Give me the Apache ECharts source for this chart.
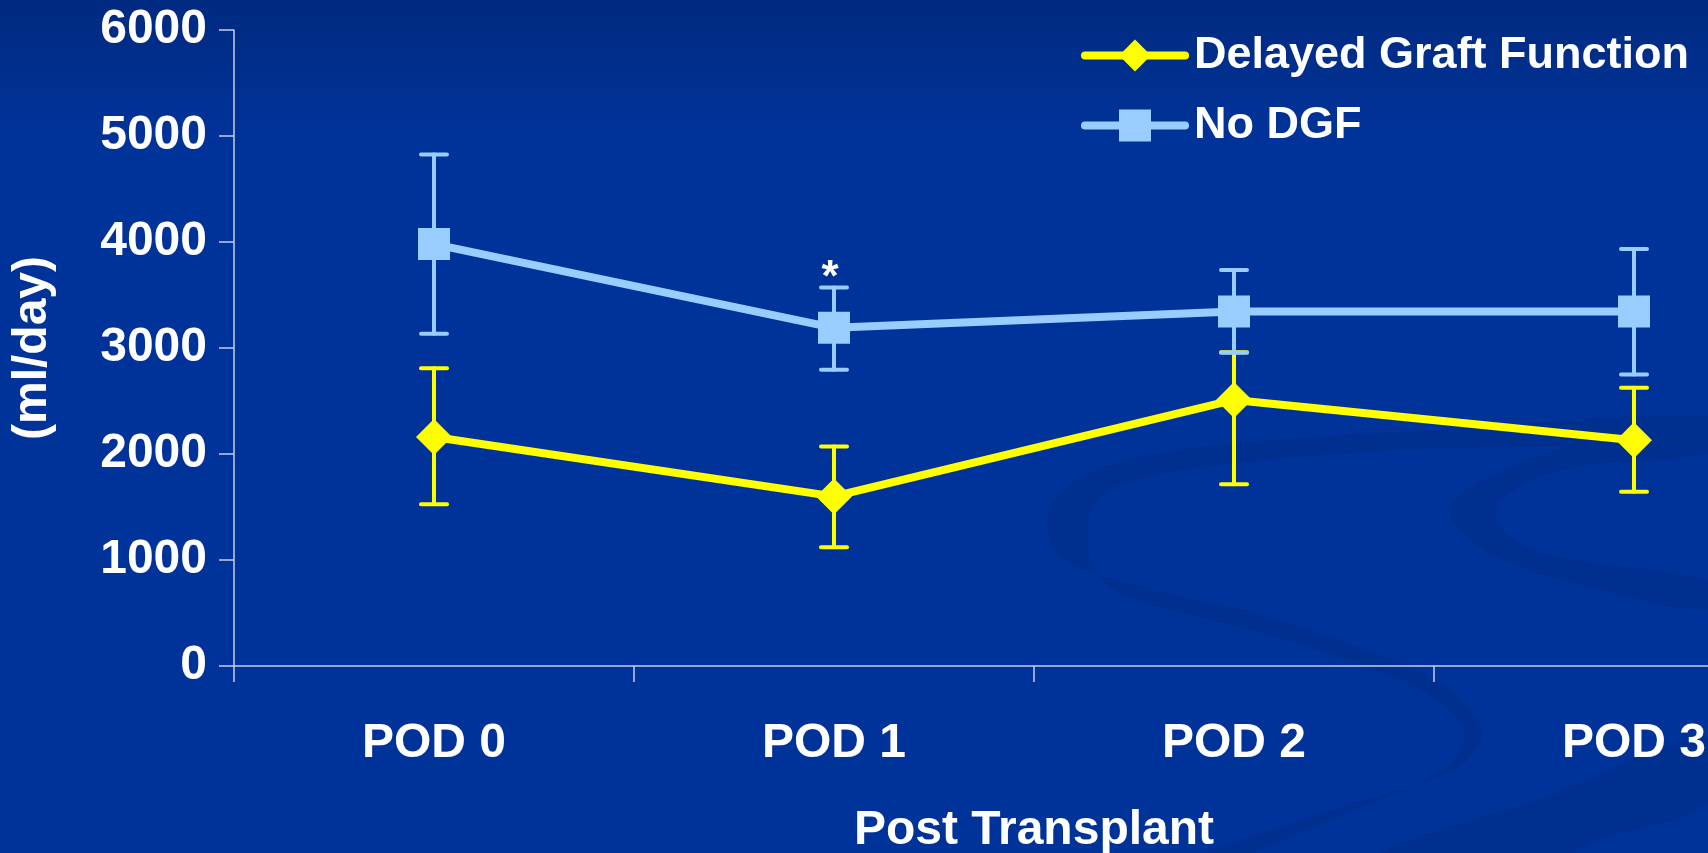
<!DOCTYPE html>
<html><head><meta charset="utf-8">
<script src="https://cdn.jsdelivr.net/npm/echarts@6/dist/echarts.min.js"></script>
<style>html,body{margin:0;padding:0;background:#003399;overflow:hidden}#c{width:1708px;height:853px}</style>
</head><body><div id="c"></div>
<script>
// ---- data ----
const categories = ['POD 0', 'POD 1', 'POD 2', 'POD 3'];
const dgfMean  = [2160, 1600, 2510, 2130];
const dgfLow   = [1525, 1120, 1715, 1645];
const dgfHigh  = [2810, 2070, 2960, 2625];
const noDgfMean = [3980, 3190, 3345, 3345];
const noDgfLow  = [3135, 2795, 2955, 2750];
const noDgfHigh = [4825, 3570, 3735, 3935];
const seriesNames = ['Delayed Graft Function', 'No DGF'];
const annotations = [{ series: 'No DGF', category: 'POD 1', text: '*' }];
const yAxisTitle = '(ml/day)';
const xAxisTitle = 'Post Transplant';

// ---- style ----
const FONT = '"Liberation Sans", Arial, sans-serif';
const YELLOW = '#ffff00';
const BLUE = '#99ccff';
const AXIS = '#c8cde8';
const SWOOSH = '#00308f';

function errorSeries(name, low, high, color, z) {
  return {
    type: 'custom',
    name: name + ' error',
    z: z,
    silent: true,
    data: categories.map((c, i) => [i, low[i], high[i]]),
    renderItem(params, api) {
      const i = api.value(0);
      const lo = api.coord([i, api.value(1)]);
      const hi = api.coord([i, api.value(2)]);
      const half = 13;
      const st = { stroke: color, lineWidth: 4, lineCap: 'round' };
      const children = [
        { type: 'line', shape: { x1: lo[0], y1: lo[1], x2: hi[0], y2: hi[1] }, style: st },
        { type: 'line', shape: { x1: hi[0] - half, y1: hi[1], x2: hi[0] + half, y2: hi[1] }, style: st },
        { type: 'line', shape: { x1: lo[0] - half, y1: lo[1], x2: lo[0] + half, y2: lo[1] }, style: st }
      ];
      annotations.forEach(a => {
        if (a.series === name && categories.indexOf(a.category) === i) {
          children.push({
            type: 'text',
            style: { text: a.text, x: hi[0] - 4, y: hi[1] + 13, fill: '#ffffff',
              font: 'bold 44px ' + FONT, textAlign: 'center', textVerticalAlign: 'bottom' }
          });
        }
      });
      return { type: 'group', children };
    }
  };
}

// decorative background crescents (slide template)
function blob(points) {
  return { type: 'polygon', z: -10, silent: true,
    shape: { points: points, smooth: 0.35 }, style: { fill: SWOOSH } };
}

const chart = echarts.init(document.getElementById('c'), null, { renderer: 'canvas' });
chart.setOption({
  animation: false,
  backgroundColor: {
    type: 'linear', x: 0, y: 0, x2: 0, y2: 1,
    colorStops: [{ offset: 0, color: '#002a80' }, { offset: 0.16, color: '#003399' }, { offset: 1, color: '#003399' }]
  },
  textStyle: { fontFamily: FONT },
  graphic: [
    blob([[1712, 416], [1415, 431], [1209, 446], [1106, 466], [1058, 495], [1047, 525], [1060, 557],
          [1132, 584], [1261, 615], [1364, 649], [1441, 683], [1482, 730], [1468, 760], [1441, 776],
          [1312, 816], [1200, 856], [1240, 856], [1330, 820], [1445, 768], [1464, 730], [1425, 693],
          [1350, 661], [1250, 630], [1140, 601], [1098, 576], [1088, 530], [1100, 497], [1140, 479],
          [1240, 463], [1420, 449], [1712, 440]]),
    blob([[1712, 421], [1570, 446], [1467, 489], [1450, 515], [1493, 555], [1596, 589], [1712, 610],
          [1712, 582], [1544, 553], [1498, 524], [1503, 498], [1570, 468], [1712, 452]]),
    blob([[1380, 856], [1550, 795], [1712, 738], [1712, 800], [1600, 840], [1560, 856]])
  ],
  grid: { left: 234, top: 30, width: 1600, height: 636, containLabel: false, outerBoundsMode: 'none' },
  legend: {
    data: seriesNames,
    orient: 'vertical',
    left: 1076, top: 28,
    itemWidth: 100, itemHeight: 40, itemGap: 25,
    selectedMode: false,
    lineStyle: { width: 8, cap: 'round' },
    textStyle: { color: '#ffffff', fontSize: 45, fontWeight: 'bold', fontFamily: FONT, padding: [0, 0, 0, 4] }
  },
  xAxis: {
    type: 'category',
    data: categories,
    boundaryGap: true,
    name: xAxisTitle,
    nameLocation: 'middle',
    nameGap: 141,
    nameTextStyle: { color: '#ffffff', fontSize: 48, fontWeight: 'bold', fontFamily: FONT },
    axisLine: { lineStyle: { color: AXIS, width: 1.5 } },
    axisTick: { show: true, length: 16, alignWithLabel: false, lineStyle: { color: AXIS, width: 1.5 } },
    axisLabel: { color: '#ffffff', fontSize: 48, fontWeight: 'bold', fontFamily: FONT, margin: 54 },
    splitLine: { show: false }
  },
  yAxis: {
    type: 'value',
    min: 0, max: 6000, interval: 1000,
    name: yAxisTitle,
    nameLocation: 'middle',
    nameGap: 177,
    nameRotate: 90,
    nameTextStyle: { color: '#ffffff', fontSize: 48, fontWeight: 'bold', fontFamily: FONT },
    axisLine: { show: true, lineStyle: { color: AXIS, width: 1.5 } },
    axisTick: { show: true, length: 15, lineStyle: { color: AXIS, width: 1.5 } },
    axisLabel: { color: '#ffffff', fontSize: 48, fontWeight: 'bold', fontFamily: FONT, margin: 27,
      formatter: v => String(v) },
    splitLine: { show: false }
  },
  series: [
    errorSeries(seriesNames[0], dgfLow, dgfHigh, YELLOW, 2),
    {
      type: 'line', name: seriesNames[0], data: dgfMean, z: 3,
      symbol: 'diamond', symbolSize: 36,
      lineStyle: { color: YELLOW, width: 8 },
      itemStyle: { color: YELLOW },
      emphasis: { disabled: true }
    },
    errorSeries(seriesNames[1], noDgfLow, noDgfHigh, BLUE, 4),
    {
      type: 'line', name: seriesNames[1], data: noDgfMean, z: 5,
      symbol: 'rect', symbolSize: 32,
      lineStyle: { color: BLUE, width: 8 },
      itemStyle: { color: BLUE },
      emphasis: { disabled: true }
    }
  ]
});
</script></body></html>
